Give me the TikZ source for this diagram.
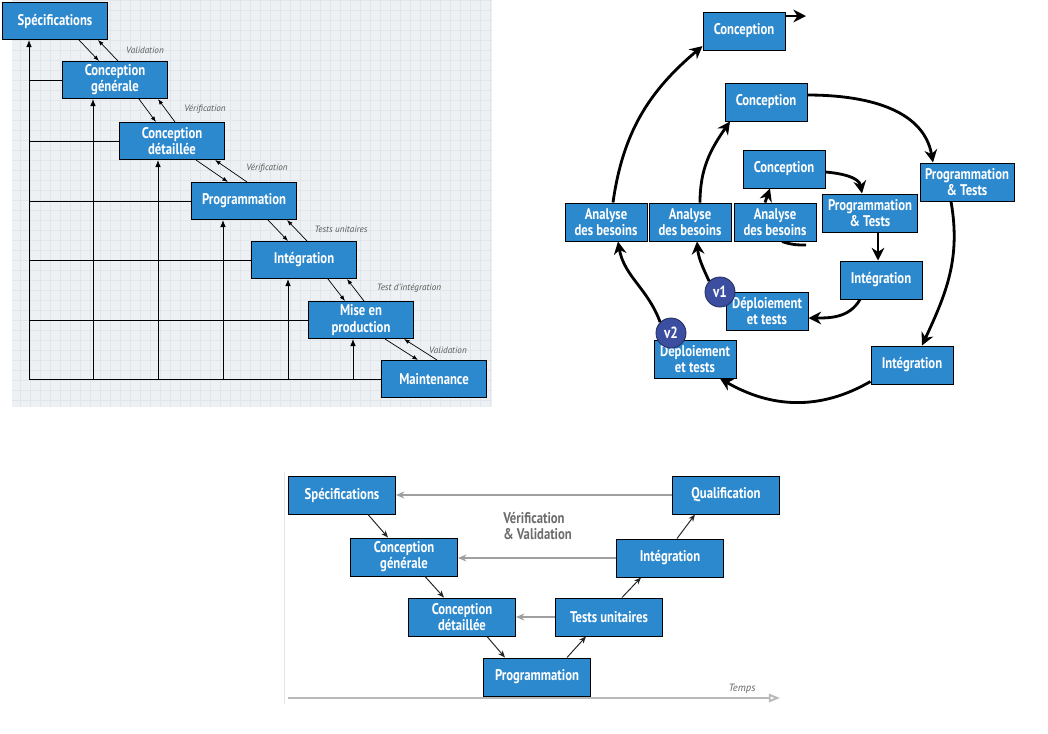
\documentclass[tikz,border=0pt]{standalone}
\usepackage{fontspec}
\setmainfont{PT Sans}
\newfontfamily\boxfont[FakeStretch=0.82]{PT Sans}
\usetikzlibrary{positioning,arrows.meta,calc}
\definecolor{boxblue}{RGB}{45,137,206}
\definecolor{vdark}{RGB}{60,78,160}
\definecolor{gridbg}{RGB}{238,241,244}
\definecolor{gridln}{RGB}{224,230,236}
\tikzset{
  box/.style={draw=black,line width=0.7pt,fill=boxblue,text=white,align=center,inner sep=1pt,
    font=\boxfont\bfseries\fontsize{11}{11.5}\selectfont},
  wfbox/.style={box,minimum width=2.6cm,minimum height=0.925cm},
  spbox/.style={box,minimum width=2.05cm,minimum height=0.95cm},
  vbox/.style={box,minimum width=2.675cm,minimum height=0.95cm},
  wfline/.style={black,line width=0.6pt},
  wfarrow/.style={wfline,-{Latex[length=5pt,width=4pt]}},
  wfdiag/.style={black,line width=0.5pt,-{Latex[length=4pt,width=3pt]}},
  wflab/.style={text=gray!70!black,font=\itshape\fontsize{6.5}{7}\selectfont,inner sep=0pt},
  spiral/.style={line width=2pt,-{Stealth[length=9pt,width=9pt]}},
  vcircle/.style={circle,fill=vdark,draw=vdark!60!black,line width=0.6pt,text=white,
    minimum size=0.75cm,inner sep=0pt,font=\boxfont\bfseries\fontsize{11.5}{12}\selectfont},
  vline/.style={gray!75,line width=0.9pt,-{Stealth[length=6pt,width=5pt]}},
  vdiag/.style={gray!30!black,line width=0.7pt,-{Stealth[length=5pt,width=4pt]}},
}
\begin{document}
\begin{tikzpicture}[x=0.025cm,y=-0.025cm]
\useasboundingbox (0,0) rectangle (1048,733);

% ---- cycle en cascade ----
\fill[gridbg] (12,0) rectangle (492,407);
\draw[gridln,step=0.25cm] (12,0) grid (492,407);

\node[wfbox] (spec)  at (55,21)  {Spécifications};
\node[wfbox] (cg)    at (115,80) {Conception\\générale};
\node[wfbox] (cd)    at (172,141) {Conception\\détaillée};
\node[wfbox] (prog)  at (244,201) {Programmation};
\node[wfbox] (integ) at (304,260) {Intégration};
\node[wfbox] (mise)  at (361,320) {Mise en\\production};
\node[wfbox] (maint) at (434,379) {Maintenance};

% retours vers les phases
\coordinate (b1) at (29,379);
\coordinate (b2) at (93,379);
\coordinate (b3) at (158,379);
\coordinate (b4) at (223,379);
\coordinate (b5) at (288,379);
\coordinate (b6) at (353,379);
\draw[wfline] (b1) -- (b1 -| maint.west);
\foreach \n in {cg,cd,prog,integ,mise}{
  \draw[wfline] (b1 |- \n.west) -- (\n.west);
}
\foreach \b/\n in {b1/spec,b2/cg,b3/cd,b4/prog,b5/integ,b6/mise}{
  \draw[wfarrow] (\b) -- (\b |- \n.south);
}
% allers-retours entre phases
\foreach \a/\b in {spec/cg,cg/cd,cd/prog,prog/integ,integ/mise,mise/maint}{
  \draw[wfdiag] ($(\a.south)+(24,0)$) -- ($(\b.north)+(-16,0)$);
  \draw[wfdiag] ($(\b.north)+(3,0)$) -- ($(\a.south)+(43,0)$);
}
\node[wflab] (l1) at (145,50)  {Validation};
\node[wflab] (l2) at (205,109) {Vérification};
\node[wflab] (l3) at (267,168) {Vérification};
\node[wflab] (l4) at (341,229) {Tests unitaires};
\node[wflab] (l5) at (409,288) {Test d'intégration};
\node[wflab] (l6) at (448,350) {Validation};

% ---- spirale ----
\node[spbox] (ab1) at (775,222) {Analyse\\des besoins};
\coordinate (s0) at (806,245);
\draw[line width=2pt] (ab1.-70) to[out=-20,in=180] (s0);
\node[spbox] (ab1) at (775,222) {Analyse\\des besoins};
\node[spbox] (ab2) at (690,222) {Analyse\\des besoins};
\node[spbox] (ab3) at (606,222) {Analyse\\des besoins};
\node[spbox] (conc1) at (784,169) {Conception};
\node[spbox] (conc2) at (766,102) {Conception};
\node[spbox] (conc3) at (744,31)  {Conception};
\node[spbox,minimum width=2.375cm] (pt1) at (870,213) {Programmation\\\& Tests};
\node[spbox,minimum width=2.35cm]  (pt2) at (967,182) {Programmation\\\& Tests};
\node[spbox] (int1) at (881,280) {Intégration};
\node[spbox] (int2) at (912,365) {Intégration};
\node[spbox] (dep1) at (767,311) {Déploiement\\et tests};
\node[spbox] (dep2) at (695,359) {Déploiement\\et tests};
\node[vcircle] (v1) at (720,292) {v1};
\node[vcircle] (v2) at (671,333) {v2};
\coordinate (cend) at (806,16);

\draw[spiral] ($(ab1.north)+(-10,0)$) -- ($(conc1.south)+(-14,0)$);
\draw[spiral] ($(conc1.east)+(0,3)$) to[out=-5,in=100] ($(pt1.north)+(-8,0)$);
\draw[spiral] ($(pt1.south)+(8,0)$) -- ($(int1.north)+(-3,0)$);
\draw[spiral] ($(int1.south)+(-21,0)$) to[out=-120,in=0] ($(dep1.east)+(0,7)$);
\draw[spiral] (v1.135) to[out=115,in=-85] ($(ab2.south)+(7,0)$);
\draw[spiral] ($(ab2.north)+(10,0)$) to[out=90,in=-125] ($(conc2.south)+(-36,0)$);
\draw[spiral] ($(conc2.east)+(0,-7)$) to[out=0,in=100] ($(pt2.north)+(-34,0)$);
\draw[spiral] ($(pt2.south)+(-16,0)$) to[out=-80,in=65] ($(int2.north)+(10,0)$);
\draw[spiral] ($(int2.south west)+(0,-3)$) to[out=-150,in=-30] ($(dep2.south)+(25,0)$);
\draw[spiral] (v2.135) to[out=110,in=-80] ($(ab3.south)+(12,0)$);
\draw[spiral] ($(ab3.north)+(7,0)$) to[out=82,in=-140] (conc3.-160);
\draw[spiral] ($(conc3.east)+(0,-15)$) -- (cend);

% ---- cycle en V ----
\draw[gray!20] (284,472) -- (284,704);
\coordinate (t0) at (288,698);
\coordinate (t1) at (780,698);
\draw[gray!55,line width=1.4pt,-{Triangle[open,length=8pt,width=6pt]}] (t0) -- (t1);
\node[text=gray!80!black,font=\itshape\fontsize{7.5}{8}\selectfont] (temps) at (742,689) {Temps};

\node[vbox] (vspec) at (342,495) {Spécifications};
\node[vbox] (vcg)   at (404,557) {Conception\\générale};
\node[vbox] (vcd)   at (462,617) {Conception\\détaillée};
\node[vbox] (vprog) at (537,677) {Programmation};
\node[vbox] (vtu)   at (609,617) {Tests unitaires};
\node[vbox] (vint)  at (670,558) {Intégration};
\node[vbox] (vqual) at (726,495) {Qualification};
\node[anchor=west,align=left,text=gray!85!black,inner sep=0pt,
      font=\boxfont\bfseries\fontsize{11}{11.5}\selectfont] (vv) at (503,526) {Vérification\\\& Validation};

\draw[vline] (vqual.west) -- (vspec.east);
\draw[vline] (vint.west) -- (vint.west -| vcg.east);
\draw[vline] (vtu.west) -- (vtu.west -| vcd.east);
\draw[vdiag] ($(vspec.south)+(26,0)$) -- ($(vcg.north)+(-16,0)$);
\draw[vdiag] ($(vcg.south)+(21,0)$) -- ($(vcd.north)+(-18,0)$);
\draw[vdiag] ($(vcd.south)+(25,0)$) -- ($(vprog.north)+(-32,0)$);
\draw[vdiag] ($(vprog.north)+(30,0)$) -- ($(vtu.south)+(-23,0)$);
\draw[vdiag] ($(vtu.north)+(13,0)$) -- ($(vint.south)+(-29,0)$);
\draw[vdiag] ($(vint.north)+(7,0)$) -- ($(vqual.south)+(-31,0)$);
\end{tikzpicture}
\end{document}
